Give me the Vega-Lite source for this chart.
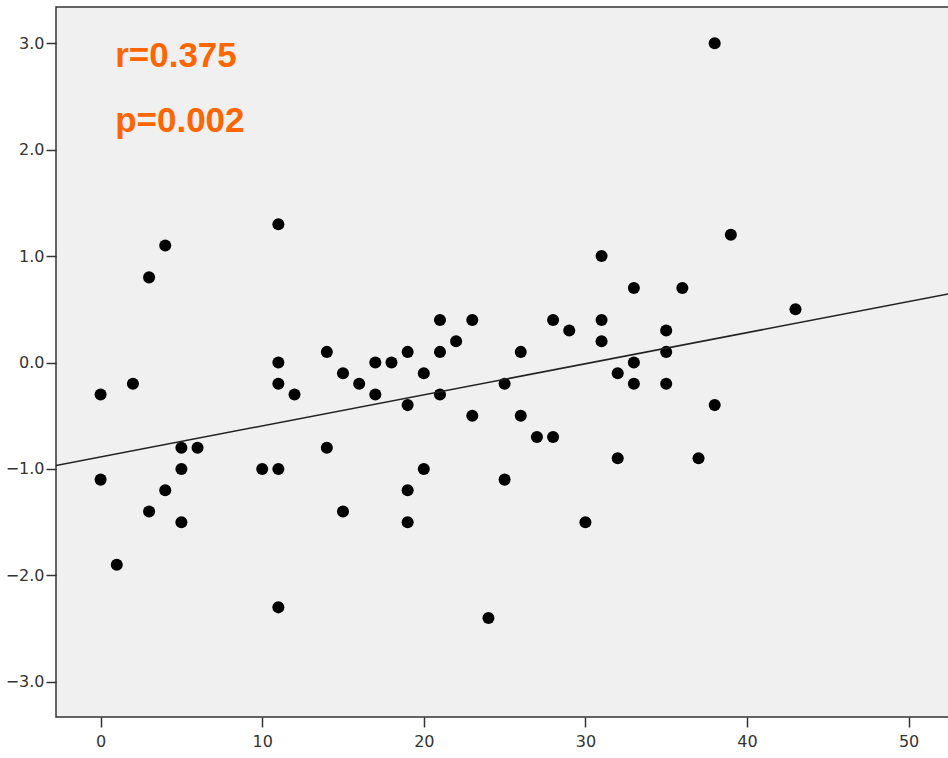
{
  "$schema": "https://vega.github.io/schema/vega-lite/v6.json",
  "width": 893,
  "height": 710,
  "autosize": "none",
  "padding": {"left": 56, "top": 7, "right": 0, "bottom": 41},
  "background": "white",
  "config": {
    "view": {"fill": "#f0f0f0", "stroke": "#333333", "strokeWidth": 1.5},
    "axis": {
      "domain": false,
      "grid": false,
      "ticks": true,
      "tickSize": 10,
      "tickWidth": 1.5,
      "tickColor": "#333333",
      "labelFont": "DejaVu Sans",
      "labelFontSize": 16,
      "labelColor": "#333333",
      "title": null
    }
  },
  "datasets": {
    "pts": [
      {"x": 0, "y": -0.3}, {"x": 0, "y": -1.1}, {"x": 1, "y": -1.9}, {"x": 2, "y": -0.2},
      {"x": 3, "y": 0.8}, {"x": 3, "y": -1.4}, {"x": 4, "y": 1.1}, {"x": 4, "y": -1.2},
      {"x": 5, "y": -0.8}, {"x": 5, "y": -1.0}, {"x": 5, "y": -1.5}, {"x": 6, "y": -0.8},
      {"x": 10, "y": -1.0}, {"x": 11, "y": 1.3}, {"x": 11, "y": 0.0}, {"x": 11, "y": -0.2},
      {"x": 11, "y": -1.0}, {"x": 11, "y": -2.3}, {"x": 12, "y": -0.3}, {"x": 14, "y": 0.1},
      {"x": 14, "y": -0.8}, {"x": 15, "y": -0.1}, {"x": 15, "y": -1.4}, {"x": 16, "y": -0.2},
      {"x": 17, "y": 0.0}, {"x": 17, "y": -0.3}, {"x": 18, "y": 0.0}, {"x": 19, "y": 0.1},
      {"x": 19, "y": -0.4}, {"x": 19, "y": -1.2}, {"x": 19, "y": -1.5}, {"x": 20, "y": -0.1},
      {"x": 20, "y": -1.0}, {"x": 21, "y": 0.4}, {"x": 21, "y": 0.1}, {"x": 21, "y": -0.3},
      {"x": 22, "y": 0.2}, {"x": 23, "y": 0.4}, {"x": 23, "y": -0.5}, {"x": 24, "y": -2.4},
      {"x": 25, "y": -0.2}, {"x": 25, "y": -1.1}, {"x": 26, "y": 0.1}, {"x": 26, "y": -0.5},
      {"x": 27, "y": -0.7}, {"x": 28, "y": 0.4}, {"x": 28, "y": -0.7}, {"x": 29, "y": 0.3},
      {"x": 30, "y": -1.5}, {"x": 31, "y": 1.0}, {"x": 31, "y": 0.4}, {"x": 31, "y": 0.2},
      {"x": 32, "y": -0.1}, {"x": 32, "y": -0.9}, {"x": 33, "y": 0.7}, {"x": 33, "y": 0.0},
      {"x": 33, "y": -0.2}, {"x": 35, "y": 0.3}, {"x": 35, "y": 0.1}, {"x": 35, "y": -0.2},
      {"x": 36, "y": 0.7}, {"x": 37, "y": -0.9}, {"x": 38, "y": 3.0}, {"x": 38, "y": -0.4},
      {"x": 39, "y": 1.2}, {"x": 43, "y": 0.5}
    ],
    "notes": [
      {"label": "r=0.375", "x": 0.9, "y": 2.78},
      {"label": "p=0.002", "x": 0.9, "y": 2.17}
    ]
  },
  "layer": [
    {
      "data": {"name": "pts"},
      "mark": {"type": "circle", "size": 145, "color": "#000000", "opacity": 1},
      "encoding": {
        "x": {"field": "x", "type": "quantitative", "scale": {"domain": [-2.76, 52.5], "nice": false, "zero": false}, "axis": {"values": [0, 10, 20, 30, 40, 50], "labelPadding": 6}},
        "y": {"field": "y", "type": "quantitative", "scale": {"domain": [-3.33, 3.34], "nice": false, "zero": false}, "axis": {"values": [-3, -2, -1, 0, 1, 2, 3], "format": ".1f", "labelPadding": 2}}
      }
    },
    {
      "data": {"name": "pts"},
      "transform": [{"regression": "y", "on": "x", "extent": [-2.76, 52.5]}],
      "mark": {"type": "line", "color": "#222222", "strokeWidth": 1.5, "clip": true},
      "encoding": {
        "x": {"field": "x", "type": "quantitative"},
        "y": {"field": "y", "type": "quantitative"}
      }
    },
    {
      "data": {"name": "notes"},
      "mark": {"type": "text", "align": "left", "baseline": "alphabetic", "font": "Liberation Sans", "fontWeight": "bold", "fontSize": 35, "color": "#ff6600"},
      "encoding": {
        "x": {"field": "x", "type": "quantitative"},
        "y": {"field": "y", "type": "quantitative"},
        "text": {"field": "label"}
      }
    }
  ]
}
